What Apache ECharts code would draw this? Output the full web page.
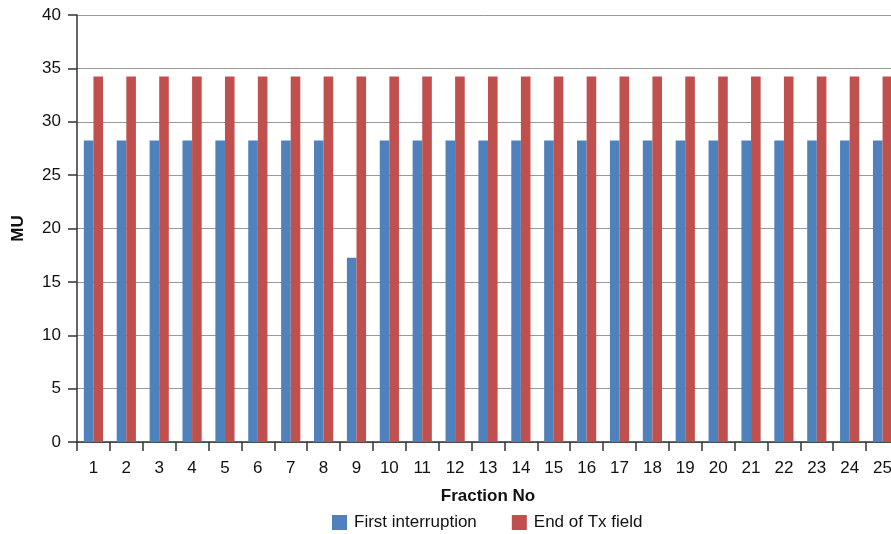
<!DOCTYPE html>
<html>
<head>
<meta charset="utf-8">
<script src="https://cdn.jsdelivr.net/npm/echarts@6/dist/echarts.min.js"></script>
<style>html,body{margin:0;padding:0;background:#fff;}#c{width:891px;height:534px;}</style>
</head>
<body>
<div id="c"></div>
<script>
var categories = ['1','2','3','4','5','6','7','8','9','10','11','12','13','14','15','16','17','18','19','20','21','22','23','24','25'];
var firstInterruption = [28.25,28.25,28.25,28.25,28.25,28.25,28.25,28.25,17.25,28.25,28.25,28.25,28.25,28.25,28.25,28.25,28.25,28.25,28.25,28.25,28.25,28.25,28.25,28.25,28.25];
var endOfTxField = [34.25,34.25,34.25,34.25,34.25,34.25,34.25,34.25,34.25,34.25,34.25,34.25,34.25,34.25,34.25,34.25,34.25,34.25,34.25,34.25,34.25,34.25,34.25,34.25,34.25];
var seriesNames = ['First interruption','End of Tx field'];

var font = '"Liberation Sans", Arial, sans-serif';
var chart = echarts.init(document.getElementById('c'), null, {renderer:'canvas'});
chart.setOption({
  animation: false,
  backgroundColor: '#fff',
  textStyle: {fontFamily: font},
  grid: {left: 77, top: 15, width: 822, height: 427, containLabel: false, outerBoundsMode: 'none'},
  legend: {
    left: 327, top: 509, itemWidth: 15, itemHeight: 15, itemGap: 35, itemStyle: {borderWidth: 0},
    icon: 'rect',
    textStyle: {fontFamily: font, fontSize: 17, color: '#111', padding: [0,0,0,2]},
    data: seriesNames
  },
  xAxis: {
    type: 'category', data: categories,
    name: 'Fraction No', nameLocation: 'middle', nameGap: 46,
    nameTextStyle: {fontFamily: font, fontSize: 17, fontWeight: 'bold', color: '#111'},
    axisLine: {lineStyle: {color: '#333', width: 1.5}},
    axisTick: {show: true, length: 9, lineStyle: {color: '#333', width: 1.5}},
    axisLabel: {margin: 18, fontFamily: font, fontSize: 17, color: '#111', interval: 0}
  },
  yAxis: {
    type: 'value', min: 0, max: 40, interval: 5,
    name: 'MU', nameLocation: 'middle', nameGap: 50, nameRotate: 90,
    nameTextStyle: {fontFamily: font, fontSize: 17, fontWeight: 'bold', color: '#111'},
    axisLine: {show: true, lineStyle: {color: '#333', width: 1.5}},
    axisTick: {show: true, length: 9, lineStyle: {color: '#333', width: 1.5}},
    axisLabel: {margin: 16, fontFamily: font, fontSize: 17, color: '#111'},
    splitLine: {show: true, lineStyle: {color: '#999', width: 1}}
  },
  series: [
    {name: seriesNames[0], type: 'bar', data: firstInterruption, barWidth: 9.6, barGap: '0%', itemStyle: {color: '#4F81BD'}},
    {name: seriesNames[1], type: 'bar', data: endOfTxField, barWidth: 9.6, barGap: '0%', itemStyle: {color: '#C0504D'}}
  ]
});
</script>
</body>
</html>
